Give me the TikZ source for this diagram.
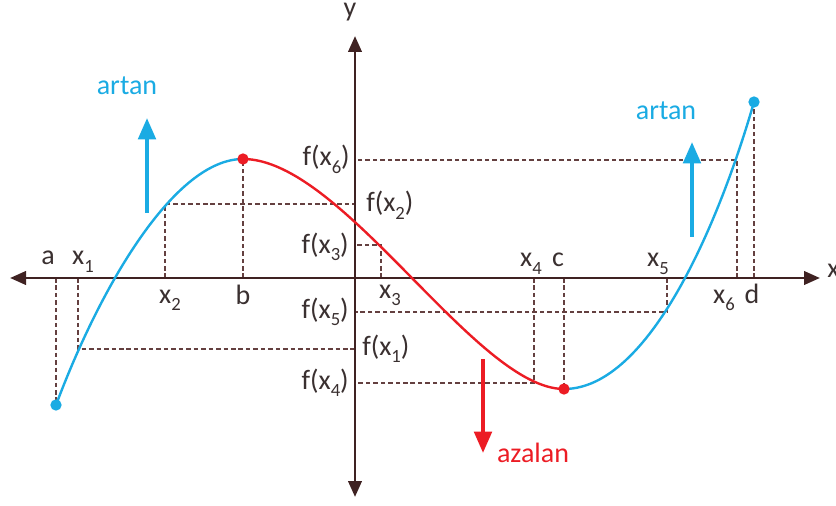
\documentclass[tikz,border=0pt]{standalone}
\usepackage{fontspec}
\setmainfont{Carlito}
\usetikzlibrary{arrows.meta}
\definecolor{axiscol}{HTML}{3F2222}
\definecolor{dashcol}{HTML}{644040}
\definecolor{txtcol}{HTML}{3A3030}
\definecolor{incol}{HTML}{1AABE3}
\definecolor{deccol}{HTML}{EC1C24}
\newcommand\lsub[1]{\raisebox{-0.28em}{\fontsize{14}{14}\selectfont #1}}
\begin{document}
\begin{tikzpicture}[x=0.75pt,y=-0.75pt,
  axisline/.style={draw=axiscol, line width=2.2pt, {Triangle[length=12pt,width=10pt]}-{Triangle[length=12pt,width=10pt]}},
  guide/.style={draw=dashcol, line width=1.3pt, dash pattern=on 3.4pt off 2.2pt},
  lbl/.style={text=txtcol, inner sep=0pt, font=\fontsize{21}{25}\selectfont},
  inc/.style={draw=incol, line width=1.8pt},
  dec/.style={draw=deccol, line width=1.8pt},
  incarrow/.style={draw=incol, line width=3pt, -{Triangle[length=16pt,width=13pt]}},
  decarrow/.style={draw=deccol, line width=3pt, -{Triangle[length=16pt,width=13pt]}},
  dotin/.style={fill=incol, circle, inner sep=0pt, minimum size=8.5pt},
  dotdec/.style={fill=deccol, circle, inner sep=0pt, minimum size=8.5pt}
]
\useasboundingbox (0,0) rectangle (836,506);
% points on the curve
\coordinate (A) at (56,405);
\coordinate (B) at (243,159);
\coordinate (C) at (564,389);
\coordinate (D) at (754,102);
% axis feet
\coordinate (fa) at (56,278);
\coordinate (fx1) at (78,278);
\coordinate (fx2) at (165,278);
\coordinate (fb) at (243,278);
\coordinate (fx3) at (381,278);
\coordinate (fx4) at (534,278);
\coordinate (fc) at (564,278);
\coordinate (fx5) at (667,278);
\coordinate (fx6) at (737,278);
\coordinate (fd) at (754,278);
% y-axis levels
\coordinate (fy1) at (355,349);
\coordinate (fy2) at (355,204);
\coordinate (fy3) at (355,245);
\coordinate (fy4) at (355,383);
\coordinate (fy5) at (355,312);
\coordinate (fy6) at (355,160);
% axes ends
\coordinate (XL) at (10,278);
\coordinate (XR) at (820,278);
\coordinate (YT) at (355,36);
\coordinate (YB) at (355,497);

% guides
\draw[guide] (fa) -- (A);
\draw[guide] (fb) -- (B);
\draw[guide] (fc) -- (C);
\draw[guide] (fd) -- (D);
\draw[guide] (fx1) |- (fy1);
\draw[guide] (fx2) |- (fy2);
\draw[guide] (fx3) |- (fy3);
\draw[guide] (fx4) |- (fy4);
\draw[guide] (fx5) |- (fy5);
\draw[guide] (fx6) |- (fy6);

% axes
\draw[axisline] (XL) -- (XR);
\draw[axisline] (YB) -- (YT);

% curve
\draw[inc] (A) .. controls (101,285) and (175,159) .. (B);
\draw[dec] (B) .. controls (343,159) and (476,389) .. (C);
\draw[inc] (C) .. controls (650,389) and (720,220) .. (D);

\node[dotin] (dA) at (A) {};
\node[dotin] (dD) at (D) {};
\node[dotdec] (dB) at (B) {};
\node[dotdec] (dC) at (C) {};

% trend arrows
\coordinate (al0) at (147,213); \coordinate (al1) at (147,118);
\coordinate (ar0) at (692,237); \coordinate (ar1) at (692,142);
\coordinate (ad0) at (483,359); \coordinate (ad1) at (483,453);
\draw[incarrow] (al0) -- (al1);
\draw[incarrow] (ar0) -- (ar1);
\draw[decarrow] (ad0) -- (ad1);
\node[lbl, text=incol, anchor=base] (tal) at (127,95) {artan};
\node[lbl, text=incol, anchor=base] (tar) at (666,120) {artan};
\node[lbl, text=deccol, anchor=base] (tad) at (533,462) {azalan};

% axis names
\node[lbl, anchor=base] (ly) at (350,17) {y};
\node[lbl, anchor=base west] (lx) at (827,277) {x};

% x-axis labels
\node[lbl, anchor=base] (la) at (48,265) {a};
\node[lbl, anchor=base] (l1) at (83,265) {x\lsub{1}};
\node[lbl, anchor=base] (l2) at (170,303) {x\lsub{2}};
\node[lbl, anchor=base] (lb) at (243,305) {b};
\node[lbl, anchor=base] (l3) at (390,298) {x\lsub{3}};
\node[lbl, anchor=base] (l4) at (531,267) {x\lsub{4}};
\node[lbl, anchor=base] (lc) at (558,267) {c};
\node[lbl, anchor=base] (l5) at (658,267) {x\lsub{5}};
\node[lbl, anchor=base] (l6) at (724,303) {x\lsub{6}};
\node[lbl, anchor=base] (ld) at (752,304) {d};

% y-axis labels
\node[lbl, anchor=base east] (f6) at (350,166) {f(x\lsub{6})};
\node[lbl, anchor=base west] (f2) at (366,212) {f(x\lsub{2})};
\node[lbl, anchor=base east] (f3) at (349,253) {f(x\lsub{3})};
\node[lbl, anchor=base east] (f5) at (349,318) {f(x\lsub{5})};
\node[lbl, anchor=base west] (f1) at (362,355) {f(x\lsub{1})};
\node[lbl, anchor=base east] (f4) at (349,389) {f(x\lsub{4})};
\end{tikzpicture}
\end{document}
